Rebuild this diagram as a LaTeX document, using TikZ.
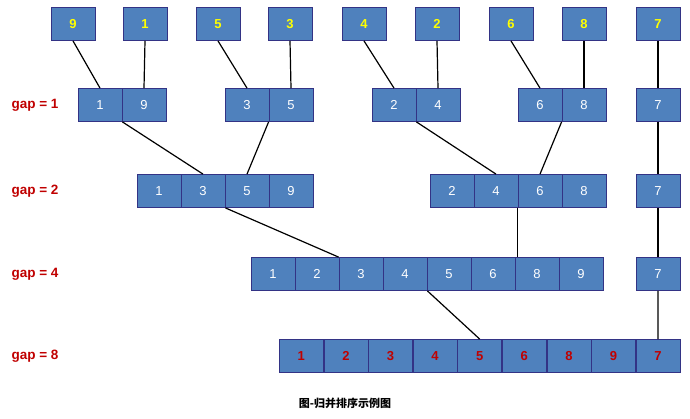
\documentclass[tikz,border=0pt]{standalone}
\usepackage{fontspec}
\setmainfont{Liberation Sans}
\newfontfamily\cjk{Noto Sans CJK SC}
\begin{document}
\begin{tikzpicture}[x=1pt,y=-1pt,
  bx/.style={draw=blue!40!black!80,line width=0.8pt,fill={rgb,255:red,79;green,129;blue,189},minimum width=44pt,minimum height=33pt,inner sep=0pt,text=white,font=\fontsize{13}{13}\selectfont},
  yel/.style={text={rgb,255:red,255;green,255;blue,0},font=\bfseries\fontsize{13}{13}\selectfont},
  redt/.style={text={rgb,255:red,192;green,0;blue,0},font=\bfseries\fontsize{13}{13}\selectfont},
  glab/.style={text={rgb,255:red,192;green,0;blue,0},font=\bfseries\fontsize{13.5}{13.5}\selectfont},
  ln/.style={line width=1.2pt}]
\useasboundingbox (0,0) rectangle (690,418);
% top row
\foreach \v/\x [count=\i] in {9/73,1/145,5/218,3/290,4/364,2/437,6/511,8/584,7/658}
  \node[bx,yel] (t\i) at (\x,24) {\v};
% gap 1
\foreach \v/\x [count=\i] in {1/100,9/144,3/247,5/291,2/394,4/438,6/540,8/584,7/658}
  \node[bx] (a\i) at (\x,105) {\v};
% gap 2
\foreach \v/\x [count=\i] in {1/159,3/203,5/247,9/291,2/452,4/496,6/540,8/584,7/658}
  \node[bx] (b\i) at (\x,191) {\v};
% gap 4
\foreach \v [count=\i] in {1,2,3,4,5,6,8,9}
  \node[bx] (c\i) at (273+44*\i-44,274) {\v};
\node[bx] (c9) at (658,274) {7};
% gap 8
\foreach \v [count=\i] in {1,2,3,4,5,6,8,9,7}
  \node[bx,redt] (d\i) at (301.3+44.6*\i-44.6,356) {\v};
% labels
\node[glab] (g1) at (35,105) {gap = 1};
\node[glab] (g2) at (35,191) {gap = 2};
\node[glab] (g4) at (35,274) {gap = 4};
\node[glab] (g8) at (35,356) {gap = 8};
\node[font=\cjk\bfseries\fontsize{11}{11}\selectfont] (cap) at (345,403) {图-归并排序示例图};
% connectors
\draw[ln] (t1.south) -- (a1.north);
\draw[ln] (t2.south) -- (a2.north);
\draw[ln] (t3.south) -- (a3.north);
\draw[ln] (t4.south) -- (a4.north);
\draw[ln] (t5.south) -- (a5.north);
\draw[ln] (t6.south) -- (a6.north);
\draw[ln] (t7.south) -- (a7.north);
\draw[ln] (t8.south) -- (a8.north);
\draw[ln] (t9) -- (a9);
\draw[ln] (a1.south east) -- (b2.north);
\draw[ln] (a4.south west) -- (b3.north);
\draw[ln] (a5.south east) -- (b6.north);
\draw[ln] (a8.south west) -- (b7.north);
\draw[ln] (a9) -- (b9);
\draw[ln] (b2.south east) -- (c3.north west);
\draw[ln] (b7.south west) -- (b7.south west |- c7.north);
\draw[ln] (b9) -- (c9);
\draw[ln] (c4.south east) -- (d5.north);
\draw[ln] (c9) -- (d9);
\end{tikzpicture}
\end{document}
